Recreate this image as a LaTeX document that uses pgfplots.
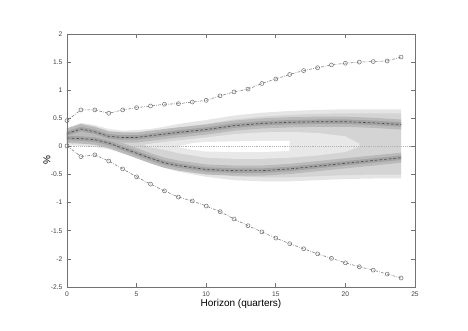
\documentclass[border=0pt]{standalone}
\usepackage{fontspec}
\setmainfont{Liberation Sans}
\usepackage{pgfplots}
\pgfplotsset{compat=1.18}
\begin{document}
\begin{tikzpicture}
\path[use as bounding box] (-50.25pt,-33pt) rectangle (300.75pt,215.25pt);
\begin{axis}[
    at={(0pt,0pt)}, anchor=south west,
    scale only axis, width=261pt, height=189.75pt,
    xmin=0, xmax=25, ymin=-2.5, ymax=2,
    xtick={0,5,...,25}, ytick={-2.5,-2,...,2},
    tick align=inside, xtick pos=both, ytick pos=both,
    major tick length=3pt,
    axis line style={black!55, line width=0.5pt},
    tick style={black!55, line width=0.5pt},
    ticklabel style={font=\fontsize{5}{6}\selectfont, text=black!75},
    /pgf/number format/assume math mode=true,
    xlabel={Horizon (quarters)},
    xlabel style={font=\fontsize{7.5}{9}\selectfont, at={(axis description cs:0.5,0)}, anchor=north, inner sep=0pt, yshift=-9pt},
    ylabel={\%},
    ylabel style={font=\fontsize{7.5}{9}\selectfont, at={(axis description cs:-0.0575,0.5)}, anchor=center, inner sep=0pt},
    axis on top,
]
% fan chart layers
\addplot[fill=black!10, draw=none] coordinates {(0,0.33)(1,0.42)(2,0.38)(3,0.31)(4,0.28)(5,0.29)(6,0.31)(7,0.35)(8,0.40)(10,0.47)(12,0.55)(14,0.60)(16,0.63)(18,0.65)(20,0.66)(22,0.66)(24,0.66)
 (24,-0.57)(22,-0.57)(20,-0.58)(18,-0.60)(16,-0.62)(14,-0.62)(12,-0.60)(10,-0.54)(8,-0.45)(7,-0.38)(6,-0.30)(5,-0.20)(4,-0.12)(3,-0.05)(2,-0.01)(1,0.01)(0,0.02)} -- cycle;
\addplot[fill=black!17, draw=none] coordinates {(0,0.26)(1,0.35)(2,0.31)(3,0.24)(4,0.21)(5,0.22)(6,0.24)(7,0.28)(8,0.33)(10,0.40)(12,0.48)(14,0.53)(16,0.56)(18,0.58)(20,0.59)(22,0.59)(24,0.59)
 (24,-0.50)(22,-0.50)(20,-0.51)(18,-0.53)(16,-0.55)(14,-0.55)(12,-0.53)(10,-0.47)(8,-0.38)(7,-0.31)(6,-0.23)(5,-0.13)(4,-0.05)(3,0.02)(2,0.06)(1,0.08)(0,0.09)} -- cycle;
\addplot[fill=black!9, draw=none] coordinates {(5.5,0.03)(6,0.05)(7,0.08)(8,0.11)(10,0.16)(12,0.22)(14,0.25)(16,0.26)(18,0.24)(20,0.18)(21,0.05)
 (21,0.0)(20,-0.10)(18,-0.16)(16,-0.20)(14,-0.22)(12,-0.22)(10,-0.20)(8,-0.12)(7,-0.06)(6,-0.02)} -- cycle;
\addplot[fill=white, draw=none] coordinates {(8,0.0)(9,0.06)(10,0.08)(12,0.09)(14,0.10)(16,0.10)
 (16,-0.08)(14,-0.10)(12,-0.10)(10,-0.09)(9,-0.06)(8,-0.01)} -- cycle;
\addplot[fill=black!27, draw=none] coordinates {(0,0.32)(1,0.40)(2,0.35)(3,0.27)(4,0.25)(5,0.25)(6,0.28)(7,0.31)(8,0.34)(10,0.39)(12,0.46)(14,0.50)(16,0.52)(18,0.53)(20,0.53)(22,0.51)(24,0.48)
 (24,0.30)(22,0.33)(20,0.35)(18,0.35)(16,0.34)(14,0.32)(12,0.28)(10,0.21)(8,0.16)(7,0.13)(6,0.10)(5,0.07)(4,0.07)(3,0.09)(2,0.17)(1,0.22)(0,0.14)} -- cycle;
\addplot[fill=black!27, draw=none] coordinates {(0,0.24)(1,0.23)(2,0.21)(3,0.15)(4,0.06)(5,-0.03)(6,-0.12)(7,-0.20)(8,-0.25)(10,-0.32)(12,-0.34)(14,-0.34)(16,-0.31)(18,-0.26)(20,-0.21)(22,-0.16)(24,-0.11)
 (24,-0.29)(22,-0.34)(20,-0.39)(18,-0.44)(16,-0.49)(14,-0.52)(12,-0.52)(10,-0.50)(8,-0.43)(7,-0.38)(6,-0.30)(5,-0.21)(4,-0.12)(3,-0.03)(2,0.03)(1,0.05)(0,0.06)} -- cycle;
\addplot[fill=black!36, draw=none] coordinates {(0,0.27)(1,0.35)(2,0.30)(3,0.22)(4,0.20)(5,0.20)(6,0.23)(7,0.26)(8,0.29)(10,0.34)(12,0.41)(14,0.45)(16,0.47)(18,0.48)(20,0.48)(22,0.46)(24,0.43)
 (24,0.35)(22,0.38)(20,0.40)(18,0.40)(16,0.39)(14,0.37)(12,0.33)(10,0.26)(8,0.21)(7,0.18)(6,0.15)(5,0.12)(4,0.12)(3,0.14)(2,0.22)(1,0.27)(0,0.19)} -- cycle;
\addplot[fill=black!36, draw=none] coordinates {(0,0.19)(1,0.18)(2,0.16)(3,0.10)(4,0.01)(5,-0.08)(6,-0.17)(7,-0.25)(8,-0.30)(10,-0.37)(12,-0.39)(14,-0.39)(16,-0.36)(18,-0.31)(20,-0.26)(22,-0.21)(24,-0.16)
 (24,-0.24)(22,-0.29)(20,-0.34)(18,-0.39)(16,-0.44)(14,-0.47)(12,-0.47)(10,-0.45)(8,-0.38)(7,-0.33)(6,-0.25)(5,-0.16)(4,-0.07)(3,0.02)(2,0.08)(1,0.10)(0,0.11)} -- cycle;
% zero line
\addplot[black!30, densely dotted, line width=0.4pt] coordinates {(0,0) (25,0)};
% dashed modes
\addplot[black!70, line width=0.5pt, dash pattern=on 2pt off 1.5pt] coordinates {(0,0.23)(1,0.31)(2,0.26)(3,0.18)(4,0.16)(5,0.16)(6,0.19)(7,0.22)(8,0.25)(10,0.30)(12,0.37)(14,0.41)(16,0.43)(18,0.44)(20,0.44)(22,0.42)(24,0.39)};
\addplot[black!70, line width=0.5pt, dash pattern=on 2pt off 1.5pt] coordinates {(0,0.15)(1,0.14)(2,0.12)(3,0.06)(4,-0.03)(5,-0.12)(6,-0.21)(7,-0.29)(8,-0.34)(10,-0.41)(12,-0.43)(14,-0.43)(16,-0.40)(18,-0.35)(20,-0.30)(22,-0.25)(24,-0.20)};
% outer bounds with circles
\addplot[black!55, line width=0.4pt, dash pattern=on 2pt off 1pt on 0.5pt off 1pt, mark=o, mark size=1.5pt, mark options={solid}] coordinates {
(0,0.46)(1,0.65)(2,0.65)(3,0.59)(4,0.65)(5,0.69)(6,0.72)(7,0.75)(8,0.76)(9,0.79)(10,0.82)(11,0.90)(12,0.97)(13,1.02)(14,1.12)(15,1.20)(16,1.28)(17,1.35)(18,1.40)(19,1.45)(20,1.48)(21,1.50)(22,1.51)(23,1.52)(24,1.59)};
\addplot[black!55, line width=0.4pt, dash pattern=on 2pt off 1pt on 0.5pt off 1pt, mark=o, mark size=1.5pt, mark options={solid}] coordinates {
(0,0.01)(1,-0.18)(2,-0.15)(3,-0.26)(4,-0.40)(5,-0.54)(6,-0.67)(7,-0.79)(8,-0.90)(9,-0.97)(10,-1.06)(11,-1.16)(12,-1.29)(13,-1.41)(14,-1.52)(15,-1.63)(16,-1.73)(17,-1.82)(18,-1.91)(19,-1.99)(20,-2.07)(21,-2.14)(22,-2.20)(23,-2.27)(24,-2.34)};
\end{axis}
\end{tikzpicture}
\end{document}
